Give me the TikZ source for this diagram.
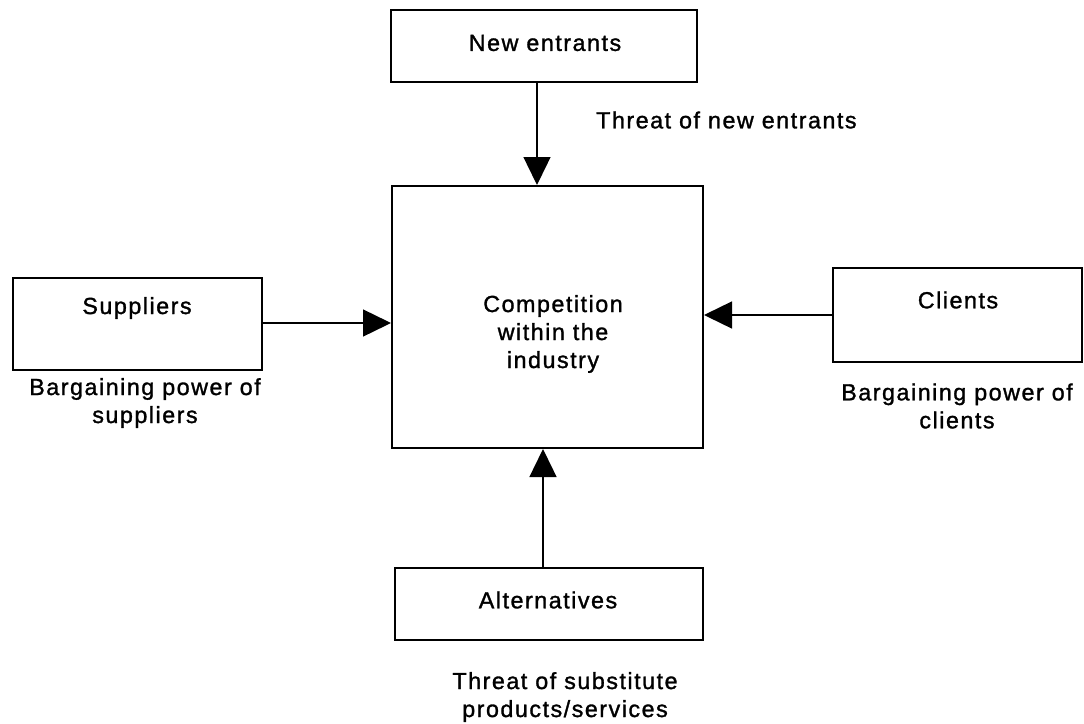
\documentclass[tikz,border=0pt]{standalone}
\usepackage{fontspec}
\setmainfont{Liberation Sans}[LetterSpace=6.5, FakeBold=1.3]
\usetikzlibrary{arrows.meta}
\tikzset{
  box/.style={draw=black, line width=2pt, inner sep=0pt},
  txt/.style={font=\fontsize{23.3}{28}\selectfont, align=center, inner sep=0pt},
  arr/.style={draw=black, line width=1.4pt, -{Triangle[length=28pt,width=27pt]}}
}
\begin{document}
\begin{tikzpicture}[x=1pt,y=-1pt]
  \useasboundingbox (0,0) rectangle (1084,723);

  % boxes
  \node[box, minimum width=306pt, minimum height=72pt]  (ne)   at (544,46) {};
  \node[box, minimum width=311pt, minimum height=262pt] (comp) at (547.5,317) {};
  \node[box, minimum width=249pt, minimum height=92pt]  (sup)  at (137.5,324) {};
  \node[box, minimum width=249pt, minimum height=94pt]  (cli)  at (957.5,315) {};
  \node[box, minimum width=308pt, minimum height=72pt]  (alt)  at (549,604) {};

  % box texts
  \node[txt] (tne)   at (545,43)  {New entrants};
  \node[txt] (tcomp) at (553,334) {Competition\\within the\\industry};
  \node[txt] (tsup)  at (137,308) {Suppliers};
  \node[txt] (tcli)  at (958,300) {Clients};
  \node[txt] (talt)  at (548,600) {Alternatives};

  % force labels
  \node[txt, anchor=west] (lne)  at (596,120) {Threat of new entrants};
  \node[txt] (lsup) at (145,403) {Bargaining power of\\suppliers};
  \node[txt] (lcli) at (957,406) {Bargaining power of\\clients};
  \node[txt] (lalt) at (565,697) {Threat of substitute\\products/services};

  % connector guides
  \coordinate (xne)  at (537,0);
  \coordinate (xalt) at (543,0);
  \coordinate (ysup) at (0,323);
  \coordinate (ycli) at (0,315);

  % connectors
  \draw[arr] (ne.south -| xne) -- (comp.north -| xne);
  \draw[arr] (alt.north -| xalt) -- (comp.south -| xalt);
  \draw[arr] (sup.east |- ysup) -- (comp.west |- ysup);
  \draw[arr] (cli.west |- ycli) -- (comp.east |- ycli);
\end{tikzpicture}
\end{document}
